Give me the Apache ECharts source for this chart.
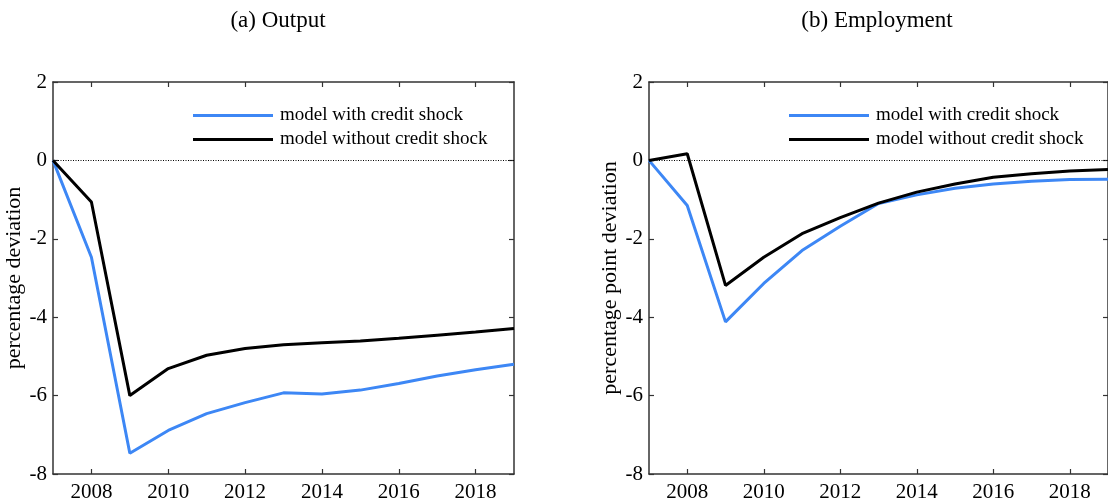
<!DOCTYPE html>
<html>
<head>
<meta charset="utf-8">
<script src="https://cdn.jsdelivr.net/npm/echarts@6/dist/echarts.min.js"></script>
<style>
html,body{margin:0;padding:0;background:#fff;}
#chart{width:1108px;height:504px;}
</style>
</head>
<body>
<div id="chart"></div>
<script>
const years = [2007,2008,2009,2010,2011,2012,2013,2014,2015,2016,2017,2018,2019];
const xTickYears = [2008,2010,2012,2014,2016,2018];
const yTicks = [-8,-6,-4,-2,0,2];
const panelTitles = ['(a) Output','(b) Employment'];
const yAxisNames = ['percentage deviation','percentage point deviation'];
const seriesNames = ['model with credit shock','model without credit shock'];
const outputWith    = [0,-2.47,-7.47,-6.89,-6.46,-6.18,-5.93,-5.96,-5.86,-5.69,-5.50,-5.34,-5.20];
const outputWithout = [0,-1.06,-6.00,-5.31,-4.97,-4.80,-4.70,-4.65,-4.61,-4.54,-4.46,-4.38,-4.29];
const emplWith      = [0,-1.15,-4.12,-3.14,-2.30,-1.68,-1.10,-0.88,-0.71,-0.60,-0.53,-0.49,-0.48];
const emplWithout   = [0,0.17,-3.19,-2.47,-1.87,-1.46,-1.09,-0.81,-0.60,-0.43,-0.34,-0.27,-0.23];

const BLUE = '#3d87f5';
const FONT = 'Liberation Serif';
const AX = '#333';

const grids = [
  {left:53, top:82, width:461, height:392},
  {left:649, top:82, width:461, height:392}
];

function pair(a){ return years.map((y,i)=>[y,a[i]]); }

const xAxes = [], yAxes = [];
[0,1].forEach(g=>{
  ['bottom','top'].forEach(pos=>{
    xAxes.push({
      type:'value', gridIndex:g, position:pos, min:2007, max:2019,
      axisLine:{show:true, onZero:false, lineStyle:{color:AX, width:1.5}},
      axisTick:{show:true, inside:true, length:5, customValues:xTickYears, lineStyle:{color:AX, width:1.2}},
      axisLabel:{show:pos==='bottom', customValues:xTickYears, color:'#000', fontFamily:FONT, fontSize:21, margin:8, formatter:v=>String(v)},
      splitLine:{show:false}
    });
  });
  ['left','right'].forEach(pos=>{
    yAxes.push({
      type:'value', gridIndex:g, position:pos, min:-8, max:2, interval:2,
      name: pos==='left' ? yAxisNames[g] : '',
      nameLocation:'middle', nameGap:25,
      nameTextStyle:{color:'#000', fontFamily:FONT, fontSize:22},
      axisLine:{show:true, onZero:false, lineStyle:{color:AX, width:1.5}},
      axisTick:{show:true, inside:true, length:5, lineStyle:{color:AX, width:1.2}},
      axisLabel:{show:pos==='left', color:'#000', fontFamily:FONT, fontSize:21, margin:6},
      splitLine:{show:false}
    });
  });
});

function mkSeries(name, data, color, g, withZero){
  const s = {
    name, type:'line', xAxisIndex:g*2, yAxisIndex:g*2, data:pair(data),
    showSymbol:false, symbol:'none', lineStyle:{color, width:3}, itemStyle:{color},
    z: color===BLUE ? 3 : 4, animation:false
  };
  if(withZero){
    s.markLine = {silent:true, symbol:'none', label:{show:false},
      lineStyle:{color:'#000', type:[1,1.5], width:1}, data:[{yAxis:0}], animation:false};
  }
  return s;
}

const series = [
  mkSeries(seriesNames[0], outputWith, BLUE, 0, true),
  mkSeries(seriesNames[1], outputWithout, '#000', 0, false),
  mkSeries(seriesNames[0]+' ', emplWith, BLUE, 1, true),
  mkSeries(seriesNames[1]+' ', emplWithout, '#000', 1, false)
];

function mkLegend(left, names){
  return {
    orient:'vertical', left, top:106, padding:0, itemWidth:80, itemHeight:3, itemGap:5,
    icon:'rect', selectedMode:false, data:names,
    textStyle:{color:'#000', fontFamily:FONT, fontSize:19, lineHeight:19, padding:[0,0,0,2]},
    formatter:n=>n.trim()
  };
}

const chart = echarts.init(document.getElementById('chart'), null, {renderer:'canvas'});
chart.setOption({
  animation:false,
  backgroundColor:'#fff',
  title:[
    {text:panelTitles[0], left:273, top:4, textAlign:'center', textStyle:{fontFamily:FONT, fontWeight:'normal', fontSize:23, color:'#000'}},
    {text:panelTitles[1], left:872, top:4, textAlign:'center', textStyle:{fontFamily:FONT, fontWeight:'normal', fontSize:23, color:'#000'}}
  ],
  grid:grids,
  xAxis:xAxes,
  yAxis:yAxes,
  legend:[
    mkLegend(193, [seriesNames[0], seriesNames[1]]),
    mkLegend(789, [seriesNames[0]+' ', seriesNames[1]+' '])
  ],
  series
});
</script>
</body>
</html>
